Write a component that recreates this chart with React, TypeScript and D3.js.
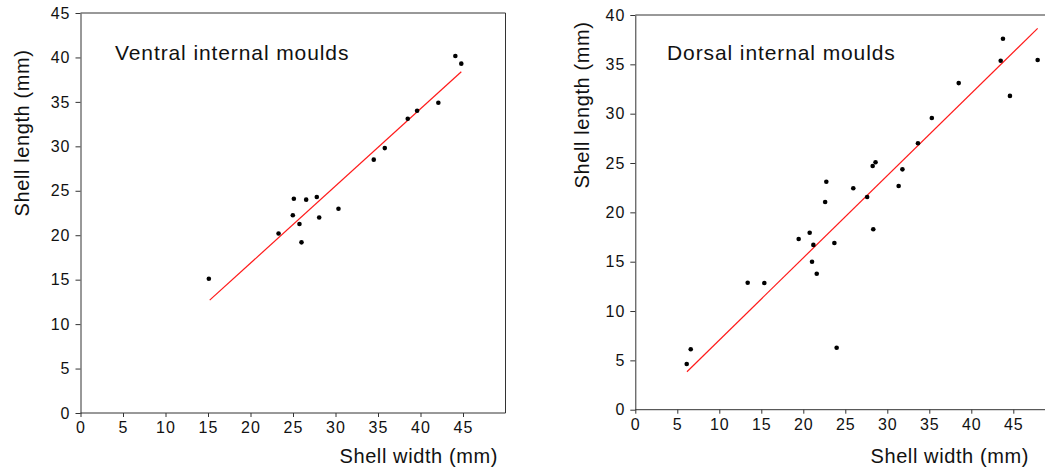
import React, { useEffect, useRef } from "react";
import * as d3 from "d3";

const ventralWidth = [44.1, 44.8, 42.1, 39.6, 38.5, 35.8, 34.5, 25.1, 26.55, 27.8, 24.98, 28.08, 30.35, 25.76, 23.3, 26.0, 15.1];
const ventralLength = [40.16, 39.3, 34.9, 34.0, 33.1, 29.8, 28.5, 24.1, 24.0, 24.3, 22.24, 22.0, 22.98, 21.26, 20.2, 19.2, 15.1];
const ventralFit = [0.868, -0.5];
const ventralFitRange = [15.2, 44.8];

const dorsalWidth = [43.77, 43.5, 47.9, 44.6, 38.5, 35.3, 33.65, 31.8, 28.6, 28.26, 31.35, 25.95, 22.74, 27.6, 22.6, 20.76, 19.45, 21.2, 28.33, 23.7, 21.04, 21.6, 13.38, 15.36, 23.97, 6.12, 6.6];
const dorsalLength = [37.6, 35.37, 35.44, 31.8, 33.1, 29.56, 27.0, 24.36, 25.07, 24.7, 22.67, 22.44, 23.1, 21.56, 21.05, 17.94, 17.3, 16.7, 18.28, 16.9, 15.0, 13.78, 12.87, 12.84, 6.28, 4.63, 6.12];
const dorsalFit = [0.8335, -1.28];
const dorsalFitRange = [6.15, 47.9];

const xTicks = [0, 5, 10, 15, 20, 25, 30, 35, 40, 45];
const ventralYTicks = [0, 5, 10, 15, 20, 25, 30, 35, 40, 45];
const dorsalYTicks = [0, 5, 10, 15, 20, 25, 30, 35, 40];

const FONT = "'Liberation Sans', Arial, sans-serif";
const AXIS = "#333";

type Panel = {
  title: string;
  xs: number[];
  ys: number[];
  fit: number[];
  fitRange: number[];
  yTicks: number[];
  xRange: [number, number];
  yDomain: [number, number];
  yRange: [number, number];
  titlePos: [number, number];
  yLabelPos: [number, number];
  xLabelPos: [number, number];
};

const panels: Panel[] = [
  {
    title: "Ventral internal moulds",
    xs: ventralWidth,
    ys: ventralLength,
    fit: ventralFit,
    fitRange: ventralFitRange,
    yTicks: ventralYTicks,
    xRange: [80.5, 505.5],
    yDomain: [0, 45],
    yRange: [413, 13],
    titlePos: [115, 60],
    yLabelPos: [29, 133],
    xLabelPos: [498, 463],
  },
  {
    title: "Dorsal internal moulds",
    xs: dorsalWidth,
    ys: dorsalLength,
    fit: dorsalFit,
    fitRange: dorsalFitRange,
    yTicks: dorsalYTicks,
    xRange: [635.3, 1055.3],
    yDomain: [0, 40],
    yRange: [409.7, 15],
    titlePos: [667, 60],
    yLabelPos: [589, 105],
    xLabelPos: [1029, 463],
  },
];

export default function App() {
  const ref = useRef<SVGSVGElement | null>(null);

  useEffect(() => {
    const svg = d3.select(ref.current);
    svg.selectAll("*").remove();

    panels.forEach((p) => {
      const x = d3.scaleLinear().domain([0, 50]).range(p.xRange);
      const y = d3.scaleLinear().domain(p.yDomain).range(p.yRange);
      const g = svg.append("g");

      // frame top & right
      g.append("line")
        .attr("x1", p.xRange[0]).attr("x2", p.xRange[1])
        .attr("y1", p.yRange[1]).attr("y2", p.yRange[1])
        .attr("stroke", AXIS).attr("stroke-width", 1);
      g.append("line")
        .attr("x1", p.xRange[1]).attr("x2", p.xRange[1])
        .attr("y1", p.yRange[1]).attr("y2", p.yRange[0])
        .attr("stroke", AXIS).attr("stroke-width", 1);

      const xAxis = g.append("g")
        .attr("transform", `translate(0,${p.yRange[0]})`)
        .call(d3.axisBottom(x).tickValues(xTicks).tickSize(4).tickSizeOuter(0).tickPadding(5));
      const yAxis = g.append("g")
        .attr("transform", `translate(${p.xRange[0]},0)`)
        .call(d3.axisLeft(y).tickValues(p.yTicks).tickSize(5).tickSizeOuter(0).tickPadding(5));

      [xAxis, yAxis].forEach((a) => {
        a.select(".domain").attr("stroke", AXIS);
        a.selectAll(".tick line").attr("stroke", AXIS);
        a.selectAll(".tick text")
          .attr("fill", "#111")
          .style("font-family", FONT)
          .style("font-size", "16px")
          .style("letter-spacing", "1px");
      });
      xAxis.select(".domain").attr("d", `M${p.xRange[0]},0H${p.xRange[1]}`);

      // regression line
      const [a, b] = p.fit;
      g.append("line")
        .attr("x1", x(p.fitRange[0])).attr("y1", y(a * p.fitRange[0] + b))
        .attr("x2", x(p.fitRange[1])).attr("y2", y(a * p.fitRange[1] + b))
        .attr("stroke", "#ff1a1a").attr("stroke-width", 1.2);

      // points
      g.selectAll("circle.pt")
        .data(p.xs.map((v, i) => [v, p.ys[i]]))
        .enter()
        .append("circle")
        .attr("class", "pt")
        .attr("cx", (d) => x(d[0]))
        .attr("cy", (d) => y(d[1]))
        .attr("r", 2.3)
        .attr("fill", "#000");

      g.append("text")
        .attr("x", p.titlePos[0]).attr("y", p.titlePos[1])
        .style("font-family", FONT).style("font-size", "21px")
        .style("letter-spacing", "0.9px")
        .attr("fill", "#111")
        .text(p.title);

      g.append("text")
        .attr("transform", `translate(${p.yLabelPos[0]},${p.yLabelPos[1]}) rotate(-90)`)
        .attr("text-anchor", "middle")
        .style("font-family", FONT).style("font-size", "20px")
        .style("letter-spacing", "0.6px")
        .attr("fill", "#111")
        .text("Shell length (mm)");

      g.append("text")
        .attr("x", p.xLabelPos[0]).attr("y", p.xLabelPos[1])
        .attr("text-anchor", "end")
        .style("font-family", FONT).style("font-size", "20px")
        .style("letter-spacing", "0.6px")
        .attr("fill", "#111")
        .text("Shell width (mm)");
    });
  }, []);

  return (
    <svg
      ref={ref}
      width={1045}
      height={468}
      style={{ position: "absolute", left: 0, top: 0, background: "#fff" }}
    />
  );
}
